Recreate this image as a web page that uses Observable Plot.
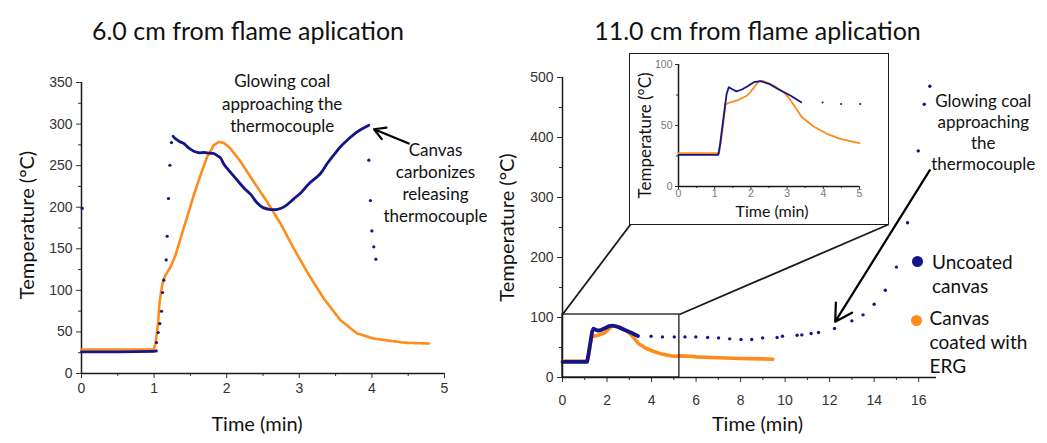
<!DOCTYPE html>
<html><head><meta charset="utf-8">
<script src="https://cdn.jsdelivr.net/npm/d3@7"></script>
<script src="https://cdn.jsdelivr.net/npm/@observablehq/plot@0.6"></script>
<style>
body{margin:0;background:#fff;}
#wrap{position:relative;width:1047px;height:443px;overflow:hidden;background:#fff;}
#wrap > *{position:absolute;}
.leg{font-family:Lato,sans-serif;font-size:19px;line-height:24px;color:#111;white-space:nowrap;}
.sw{width:11px;height:11px;border-radius:50%;}
</style></head><body><div id="wrap"></div>
<script>
// ---------- text ----------
const titles = ["6.0 cm from flame aplication", "11.0 cm from flame aplication"];
const yLabel = "Temperature (°C)";
const xLabel = "Time (min)";
const legendLabels = ["Uncoated\ncanvas", "Canvas\ncoated with\nERG"];

// ---------- ticks ----------
const leftXTicks = [0, 1, 2, 3, 4, 5];
const leftXMinor = [0.5, 1.5, 2.5, 3.5, 4.5];
const leftYTicks = [0, 50, 100, 150, 200, 250, 300, 350];
const leftYMinor = [25, 75, 125, 175, 225, 275, 325];
const rightXTicks = [0, 2, 4, 6, 8, 10, 12, 14, 16];
const rightXMinor = [1, 3, 5, 7, 9, 11, 13, 15];
const rightYTicks = [0, 100, 200, 300, 400, 500];
const rightYMinor = [50, 150, 250, 350, 450];
const insetXTicks = [0, 1, 2, 3, 4, 5];
const insetXMinor = [0.5, 1.5, 2.5, 3.5, 4.5];
const insetYTicks = [0, 50, 100];
const insetYMinor = [25, 75];

// ---------- 6.0 cm data: [time (min), temperature (°C)] ----------
const uncoated6Flat = [[0, 26], [0.5, 26], [1.0, 26.5]];
const uncoated6Dots = [[0.01, 198.5], [1.029, 27.2], [1.033, 37.3], [1.056, 49.3], [1.079, 60.1], [1.102, 74.9],
  [1.116, 97.4], [1.134, 112.2], [1.166, 136.6], [1.18, 165.1], [1.198, 210.5], [1.217, 250.5], [1.24, 277.8],
  [3.958, 256.6], [3.98, 208], [4.0, 171.5], [4.026, 152.3], [4.055, 137.5]];
const uncoated6Line = [[1.263, 285.4], [1.29, 282.6], [1.35, 279], [1.41, 276.6], [1.48, 271], [1.547, 267.4],
  [1.62, 265.5], [1.685, 265.8], [1.76, 265], [1.822, 264.6], [1.87, 262], [1.915, 259.3], [1.96, 252],
  [2.007, 246.6], [2.144, 232.5], [2.25, 222], [2.328, 215.7], [2.42, 205], [2.5, 199.5], [2.603, 197.2],
  [2.7, 197.5], [2.8, 201], [2.924, 210], [3.03, 218], [3.13, 228], [3.292, 240.6], [3.38, 252],
  [3.476, 263], [3.57, 273], [3.659, 280.6], [3.797, 290.6], [3.88, 295], [3.958, 298.6]];
const coated6 = [[0, 28.8], [0.5, 28.8], [0.996, 28.8], [1.019, 36], [1.042, 50.9], [1.056, 62], [1.074, 84.2],
  [1.097, 99], [1.125, 112.2], [1.157, 118.2], [1.226, 128.2], [1.295, 142.3], [1.364, 162.4], [1.456, 188.4],
  [1.547, 214.5], [1.639, 238.5], [1.731, 260.5], [1.822, 274.6], [1.891, 278.6], [1.96, 277.4], [2.052, 270.6],
  [2.19, 255], [2.373, 230.5], [2.558, 206.4], [2.741, 180.4], [2.924, 150.3], [3.109, 122], [3.338, 90],
  [3.567, 64.1], [3.797, 48.1], [4.026, 42.1], [4.256, 39.2], [4.486, 36.8], [4.784, 36.1]];

// ---------- 11.0 cm data ----------
const uncoated11Line = [[0, 26], [0.5, 26], [1.1, 26], [1.15, 35], [1.25, 58], [1.33, 76], [1.39, 81.4],
  [1.5, 79.5], [1.6, 78], [1.75, 79.5], [1.9, 82], [2.08, 85.5], [2.27, 86.3], [2.5, 84.2], [2.77, 79.5],
  [3.09, 74.6], [3.39, 69.1]];
const uncoated11Dots = [[3.98, 68.8], [4.49, 67.7], [5.02, 67.7], [5.5, 67.7], [5.99, 67.7], [6.52, 66.6],
  [7.01, 66], [7.51, 64.4], [8.02, 63.3], [8.5, 63.3], [8.99, 66], [9.64, 66.6], [9.88, 68.8], [10.54, 70.5],
  [10.75, 71], [11.17, 73.3], [11.5, 75], [12.22, 81.6], [13.0, 94.4], [13.5, 104.4], [14.0, 122], [14.5, 145.5],
  [15.0, 184], [15.5, 258], [15.98, 377.7], [16.25, 455.5], [16.5, 485.5]];
const coated11 = [[0, 27.3], [0.5, 27.3], [1.12, 27.3], [1.18, 38], [1.25, 55], [1.3, 67.2], [1.39, 68.6],
  [1.62, 70.5], [1.9, 74.6], [2.08, 80.9], [2.22, 86.3], [2.36, 86.3], [2.63, 82.8], [2.91, 77.3], [3.09, 71],
  [3.41, 56.8], [3.73, 49.2], [4.1, 43.2], [4.47, 39], [4.74, 37.2], [5.0, 35.5], [5.3, 36], [5.8, 35.5],
  [6.0, 34.4], [7.0, 33], [8.0, 31.6], [9.0, 31], [9.45, 30.5]];

// ---------- annotations (data units) ----------
const notes6 = [
  {t: 2.764, v: 326, text: "Glowing coal\napproaching the\nthermocouple"},
  {t: 4.876, v: 230.5, text: "Canvas\ncarbonizes\nreleasing\nthermocouple"}];
const arrows6 = [{t1: 4.508, v1: 276.6, t2: 4.03, v2: 293.8}];
const notes11 = [{t: 18.9, v: 410, text: "Glowing coal\napproaching\nthe\nthermocouple"}];
const arrows11 = [{t1: 16.5, v1: 345.5, t2: 12.25, v2: 93}];
const zoomBox = {x1: 0, x2: 5.25, y1: 0, y2: 105};

const BLUE = "#15158a", ORANGE = "#ff8c1a", INK = "#1a1a1a", TICK = "#333";
const P = a => a.map(([t, v]) => ({t, v}));
const wrap = document.getElementById("wrap");
const FONT = "Lato";
const fmt = d => String(d);

function axes(xT, xM, yT, yM, o) {
  return [
    Plot.axisY({ticks: yT, tickFormat: fmt, tickSize: o.ts, tickPadding: o.ypad, label: null, color: TICK, fontSize: o.fs, fill: o.lc}),
    Plot.axisY({ticks: yM, tickSize: o.ts2, text: null, label: null, color: TICK}),
    Plot.axisX({ticks: xT, tickFormat: fmt, tickSize: o.ts, tickPadding: o.xpad, label: null, color: TICK, fontSize: o.fs, fill: o.lc}),
    Plot.axisX({ticks: xM, tickSize: o.ts2, text: null, label: null, color: TICK}),
    Plot.ruleX([0], {stroke: INK, strokeWidth: 1.5}),
    Plot.ruleY([0], {stroke: INK, strokeWidth: 1.5})
  ];
}

// ---------- left chart ----------
const left = Plot.plot({
  width: 480, height: 443, marginLeft: 81, marginRight: 36, marginTop: 82, marginBottom: 70,
  x: {domain: [0, 5]}, y: {domain: [0, 350]},
  style: {fontFamily: "Liberation Sans", fontSize: "14px", background: "transparent", overflow: "visible"},
  marks: [
    ...axes(leftXTicks, leftXMinor, leftYTicks, leftYMinor, {ts: 5, ts2: 3, ypad: 4, xpad: 5, fs: 14, lc: "#333"}),
    Plot.line(P(coated6), {x: "t", y: "v", stroke: ORANGE, strokeWidth: 2.6, strokeDasharray: "2.5 0.8"}),
    Plot.line(P(uncoated6Flat), {x: "t", y: "v", stroke: BLUE, strokeWidth: 2.8}),
    Plot.line(P(uncoated6Line), {x: "t", y: "v", stroke: BLUE, strokeWidth: 2.8, curve: "catmull-rom"}),
    Plot.dot(P(uncoated6Dots), {x: "t", y: "v", r: 1.6, fill: BLUE}),
    Plot.arrow(arrows6, {x1: "t1", y1: "v1", x2: "t2", y2: "v2", stroke: "#000", strokeWidth: 2.2, headLength: 13}),
    Plot.text(notes6, {x: "t", y: "v", text: "text", fontFamily: FONT, fontSize: 17, lineHeight: 1.3, fill: "#111"}),
    Plot.text([titles[0]], {frameAnchor: "top", textAnchor: "middle", dx: -15, dy: -60, fontFamily: FONT, fontSize: 25, fill: "#111"}),
    Plot.text([yLabel], {frameAnchor: "left", textAnchor: "middle", rotate: -90, dx: -54, dy: -3, fontFamily: FONT, fontSize: 20, fill: "#111"}),
    Plot.text([xLabel], {frameAnchor: "bottom", textAnchor: "middle", dx: -6, dy: 57, fontFamily: FONT, fontSize: 20, fill: "#111"})
  ]
});
left.style.left = "0px"; left.style.top = "0px";
wrap.appendChild(left);

// ---------- right chart ----------
const R = {left: 480, w: 567, h: 443, ml: 82, mr: 111, mt: 77, mb: 66, xd: [0, 16.8], yd: [0, 500]};
const INSET = {left: 630, top: 54, w: 258, h: 170};
const xsR = Plot.scale({x: {domain: R.xd, range: [R.ml, R.w - R.mr]}});
const ysR = Plot.scale({y: {domain: R.yd, range: [R.h - R.mb, R.mt]}});
const connectors = [
  {x1: zoomBox.x1, y1: zoomBox.y2, x2: xsR.invert(INSET.left - R.left), y2: ysR.invert(INSET.top + INSET.h)},
  {x1: zoomBox.x2, y1: zoomBox.y2, x2: xsR.invert(INSET.left + INSET.w - R.left), y2: ysR.invert(INSET.top + INSET.h)}
];
const right = Plot.plot({
  width: R.w, height: R.h, marginLeft: R.ml, marginRight: R.mr, marginTop: R.mt, marginBottom: R.mb,
  x: {domain: R.xd}, y: {domain: R.yd},
  style: {fontFamily: "Liberation Sans", fontSize: "14px", background: "transparent", overflow: "visible"},
  marks: [
    ...axes(rightXTicks, rightXMinor, rightYTicks, rightYMinor, {ts: 5, ts2: 3, ypad: 4, xpad: 13, fs: 14, lc: "#333"}),
    Plot.line(P(coated11), {x: "t", y: "v", stroke: ORANGE, strokeWidth: 3.6}),
    Plot.line(P(uncoated11Line), {x: "t", y: "v", stroke: BLUE, strokeWidth: 3.8}),
    Plot.dot(P(uncoated11Dots), {x: "t", y: "v", r: 1.7, fill: BLUE}),
    Plot.rect([zoomBox], {x1: "x1", x2: "x2", y1: "y1", y2: "y2", stroke: INK, strokeWidth: 1.3, fill: "none"}),
    Plot.link(connectors, {x1: "x1", y1: "y1", x2: "x2", y2: "y2", stroke: INK, strokeWidth: 1.8}),
    Plot.arrow(arrows11, {x1: "t1", y1: "v1", x2: "t2", y2: "v2", stroke: "#000", strokeWidth: 2.2, headLength: 13}),
    Plot.text(notes11, {x: "t", y: "v", text: "text", fontFamily: FONT, fontSize: 17, lineHeight: 1.24, fill: "#111"}),
    Plot.text([titles[1]], {frameAnchor: "top", textAnchor: "middle", dx: 8, dy: -55, fontFamily: FONT, fontSize: 25, fill: "#111"}),
    Plot.text([yLabel], {frameAnchor: "left", textAnchor: "middle", rotate: -90, dx: -55, fontFamily: FONT, fontSize: 20, fill: "#111"}),
    Plot.text([xLabel], {frameAnchor: "bottom", textAnchor: "middle", dx: 8, dy: 53, fontFamily: FONT, fontSize: 20, fill: "#111"})
  ]
});
right.style.left = R.left + "px"; right.style.top = "0px";
wrap.appendChild(right);

// ---------- inset ----------
const inset = Plot.plot({
  width: INSET.w, height: INSET.h, marginLeft: 48, marginRight: 29, marginTop: 10, marginBottom: 38,
  x: {domain: [0, 5]}, y: {domain: [0, 100]},
  style: {fontFamily: "Liberation Sans", fontSize: "11px", background: "white", overflow: "hidden"},
  marks: [
    ...axes(insetXTicks, insetXMinor, insetYTicks, insetYMinor, {ts: 3, ts2: 2, ypad: 3, xpad: 0, fs: 10.5, lc: "#777"}),
    Plot.line(P(coated11).filter(d => d.t <= 5), {x: "t", y: "v", stroke: ORANGE, strokeWidth: 1.8}),
    Plot.line(P(uncoated11Line), {x: "t", y: "v", stroke: BLUE, strokeWidth: 1.8}),
    Plot.dot(P(uncoated11Dots).filter(d => d.t <= 5.05), {x: "t", y: "v", r: 1, fill: BLUE}),
    Plot.text([yLabel], {frameAnchor: "left", textAnchor: "middle", rotate: -90, dx: -33, dy: 10, fontFamily: FONT, fontSize: 17, fill: "#111"}),
    Plot.text([xLabel], {frameAnchor: "bottom", textAnchor: "middle", dx: 3, dy: 30, fontFamily: FONT, fontSize: 16, fill: "#111"})
  ]
});
const box = document.createElement("div");
box.style.cssText = `left:${INSET.left - 1}px;top:${INSET.top - 1}px;width:${INSET.w}px;height:${INSET.h}px;border:1.5px solid ${INK};background:#fff;overflow:hidden;`;
inset.style.display = "block";
box.appendChild(inset);
wrap.appendChild(box);

// ---------- legend ----------
const legendColors = [BLUE, ORANGE];
const legendPos = [{dx: 912, dy: 256, tx: 932, ty: 250}, {dx: 911, dy: 314.5, tx: 929.5, ty: 306}];
legendLabels.forEach((lab, i) => {
  const sw = document.createElement("div");
  sw.className = "sw";
  sw.style.cssText += `left:${legendPos[i].dx}px;top:${legendPos[i].dy}px;background:${legendColors[i]};`;
  wrap.appendChild(sw);
  const t = document.createElement("div");
  t.className = "leg";
  t.style.left = legendPos[i].tx + "px"; t.style.top = legendPos[i].ty + "px";
  t.innerHTML = lab.split("\n").join("<br>");
  wrap.appendChild(t);
});
</script>
</body></html>
